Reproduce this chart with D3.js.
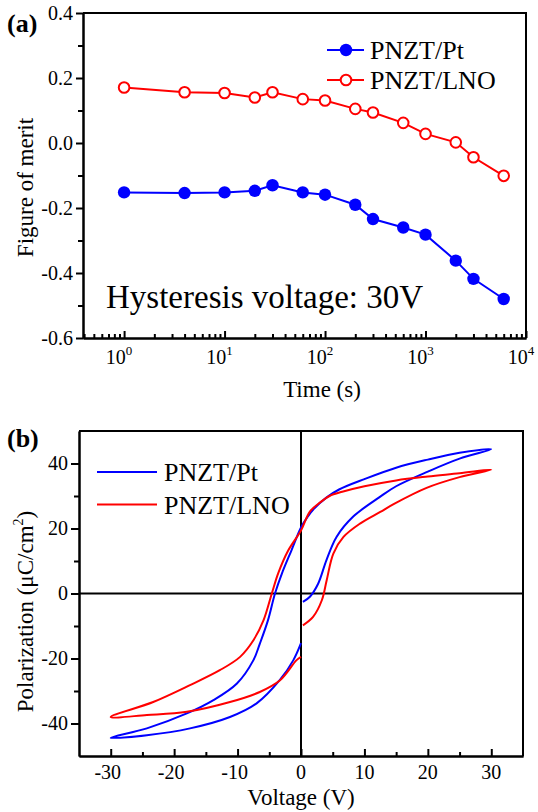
<!DOCTYPE html>
<html>
  <head>
    <style>
      body { margin: 0; background: #fff; }
      svg text { font-family: "Liberation Serif", "Times New Roman", serif; fill: #000; }
    </style>
  </head>
  <body>
    <script src="https://d3js.org/d3.v7.min.js"></script>
    <script>
      // ---- panel (a): figure of merit vs time ----
      const times = [1, 4, 10, 20, 30, 60, 100, 200, 300, 600, 1000, 2000, 3000, 6000];
      const meritPt = [-0.152, -0.154, -0.152, -0.147, -0.130, -0.152, -0.159, -0.190, -0.234, -0.260, -0.282, -0.362, -0.418, -0.480];
      const meritLNO = [0.171, 0.156, 0.154, 0.140, 0.156, 0.135, 0.131, 0.105, 0.094, 0.062, 0.028, 0.002, -0.044, -0.101];
      const seriesNames = ["PNZT/Pt", "PNZT/LNO"];
      const meritTicks = [-0.6, -0.4, -0.2, 0.0, 0.2, 0.4];
      const meritMinor = [-0.5, -0.3, -0.1, 0.1, 0.3];
      const timeTicks = [1, 10, 100, 1000, 10000];

      // ---- panel (b): P-E hysteresis loops ----
      const voltPt = [0.3, 1.4, 2.7, 4.0, 5.6, 8.2, 12.5, 15, 20, 25, 30,
        25, 20, 15, 10, 6, 4, 2, 1, 0, -1.5, -3.0, -4.1, -5.2, -6.5, -7.5, -10.1, -13.8, -18, -24.3, -30,
        -24.3, -17.5, -11.2, -7, -3.3, -1.2, 0];
      const polPt = [-2.6, -1, 3, 10.2, 17.4, 23.6, 29.8, 33, 37.5, 41.5, 44.4,
        43.3, 41.2, 38.7, 35.2, 32, 29.5, 26, 23.5, 20.3, 13.3, 6.2, 0, -8.2, -15.5, -20.5, -27.7, -32.8, -36.9, -41.5, -44.4,
        -43.6, -41.5, -38, -33.8, -26.5, -20.5, -15.3];
      const voltLNO = [0.3, 1.9, 3.3, 4.05, 5.1, 6.7, 9.3, 12.5, 14.6, 19.8, 25, 30,
        25, 20, 15, 10, 6.5, 4.5, 3, 1.4, 0, -2.0, -3.6, -4.6, -5.9, -7.5, -9.6, -12.8, -17.5, -23.3, -30,
        -24.3, -18, -11.2, -6.5, -3.3, -0.7, 0];
      const polLNO = [-9.8, -7.2, -2, 4.1, 12.3, 17.4, 21.5, 25.1, 27.5, 32.5, 35.8, 38.1,
        37, 36, 34.8, 33, 31.3, 30, 28, 25.2, 19.4, 13.3, 6.2, 0, -8.2, -14.4, -19.5, -23.6, -28.2, -33.4, -38,
        -37.4, -36.4, -33.4, -30.3, -26.7, -20.5, -19.5];
      const voltTicks = [-30, -20, -10, 0, 10, 20, 30];
      const voltMinor = [-25, -15, -5, 5, 15, 25];
      const polTicks = [-40, -20, 0, 20, 40];
      const polMinor = [-30, -10, 10, 30];

      const blue = "#0000ff", red = "#ff0000";

      const svg = d3.select("body").append("svg")
        .attr("width", 538)
        .attr("height", 812);

      function styleAxis(g) {
        g.select(".domain").attr("stroke", "#000").attr("stroke-width", 2);
        g.selectAll(".tick line").attr("stroke", "#000").attr("stroke-width", 2);
      }

      // ================= panel (a) =================
      const xA = d3.scaleLog().domain([0.39, 10000]).range([83, 526]);
      const yA = d3.scaleLinear().domain([-0.6, 0.4]).range([338, 13]);

      // frame top / right
      svg.append("path")
        .attr("d", `M${xA.range()[0]},${yA(0.4)}H${xA.range()[1]}V${yA(-0.6)}`)
        .attr("fill", "none").attr("stroke", "#000").attr("stroke-width", 2);

      // left axis, ticks outside
      svg.append("g").attr("transform", `translate(${xA.range()[0]},0)`)
        .call(d3.axisLeft(yA).tickValues(meritMinor).tickSize(5).tickSizeOuter(0).tickFormat(""))
        .call(styleAxis);
      const axA = svg.append("g").attr("transform", `translate(${xA.range()[0]},0)`)
        .call(d3.axisLeft(yA).tickValues(meritTicks).tickSize(7).tickSizeOuter(0).tickPadding(3)
          .tickFormat(d => d.toFixed(1)))
        .call(styleAxis);
      axA.selectAll("text").attr("font-size", 20).attr("font-family", "Liberation Serif");

      // bottom axis, ticks inside
      const minorTimes = xA.ticks().filter(d => !timeTicks.includes(d) && d >= 0.39);
      svg.append("g").attr("transform", `translate(0,${yA(-0.6)})`)
        .call(d3.axisBottom(xA).tickValues(minorTimes).tickSize(-4).tickSizeOuter(0).tickFormat(""))
        .call(styleAxis);
      svg.append("g").attr("transform", `translate(0,${yA(-0.6)})`)
        .call(d3.axisBottom(xA).tickValues(timeTicks).tickSize(-7).tickSizeOuter(0).tickFormat(""))
        .call(styleAxis);
      const tl = svg.append("g").selectAll("text").data(timeTicks).join("text")
        .attr("x", d => xA(d) - 5)
        .attr("y", yA(-0.6) + 26)
        .attr("font-size", 20)
        .attr("text-anchor", "middle");
      tl.append("tspan").text("10");
      tl.append("tspan").attr("font-size", 13).attr("dy", -9).text(d => Math.round(Math.log10(d)));

      svg.append("text").attr("x", 322).attr("y", 397)
        .attr("text-anchor", "middle").attr("font-size", 23).text("Time (s)");
      svg.append("text")
        .attr("transform", `translate(33,${(yA(0.4) + yA(-0.6)) / 2 + 12}) rotate(-90)`)
        .attr("text-anchor", "middle").attr("font-size", 23).text("Figure of merit");

      const lineA = d3.line().x(d => xA(d[0])).y(d => yA(d[1]));
      const ptData = times.map((t, i) => [t, meritPt[i]]);
      const lnoData = times.map((t, i) => [t, meritLNO[i]]);

      svg.append("path").datum(lnoData).attr("d", lineA)
        .attr("fill", "none").attr("stroke", red).attr("stroke-width", 2);
      svg.append("g").selectAll("circle").data(lnoData).join("circle")
        .attr("cx", d => xA(d[0])).attr("cy", d => yA(d[1])).attr("r", 5.3)
        .attr("fill", "#fff").attr("stroke", red).attr("stroke-width", 2);

      svg.append("path").datum(ptData).attr("d", lineA)
        .attr("fill", "none").attr("stroke", blue).attr("stroke-width", 2);
      svg.append("g").selectAll("circle").data(ptData).join("circle")
        .attr("cx", d => xA(d[0])).attr("cy", d => yA(d[1])).attr("r", 6.2)
        .attr("fill", blue);

      // legend (a)
      const legA = svg.append("g").selectAll("g").data(seriesNames).join("g")
        .attr("transform", (d, i) => `translate(327,${50 + i * 30})`);
      legA.append("line").attr("x1", 0).attr("x2", 37)
        .attr("stroke", (d, i) => i ? red : blue).attr("stroke-width", 2);
      legA.append("circle").attr("cx", 19).attr("r", (d, i) => i ? 5.3 : 6.2)
        .attr("fill", (d, i) => i ? "#fff" : blue)
        .attr("stroke", (d, i) => i ? red : "none").attr("stroke-width", 2);
      legA.append("text").attr("x", 43).attr("y", 9).attr("font-size", 26).text(d => d);

      svg.append("text").attr("x", 106).attr("y", 308).attr("font-size", 33)
        .text("Hysteresis voltage: 30V");
      svg.append("text").attr("x", 7).attr("y", 32).attr("font-size", 26)
        .attr("font-weight", "bold").text("(a)");

      // ================= panel (b) =================
      const xB = d3.scaleLinear().domain([-35, 35]).range([79, 523]);
      const yB = d3.scaleLinear().domain([-50, 50]).range([756, 431]);

      svg.append("path")
        .attr("d", `M${xB(-35)},${yB(50)}H${xB(35)}V${yB(-50)}`)
        .attr("fill", "none").attr("stroke", "#000").attr("stroke-width", 2);
      // zero lines
      svg.append("line").attr("x1", xB(0)).attr("x2", xB(0)).attr("y1", yB(50)).attr("y2", yB(-50))
        .attr("stroke", "#000").attr("stroke-width", 2);
      svg.append("line").attr("x1", xB(-35)).attr("x2", xB(35)).attr("y1", yB(0)).attr("y2", yB(0))
        .attr("stroke", "#000").attr("stroke-width", 2);

      svg.append("g").attr("transform", `translate(${xB(-35)},0)`)
        .call(d3.axisLeft(yB).tickValues(polMinor).tickSize(5).tickSizeOuter(0).tickFormat(""))
        .call(styleAxis);
      const axB = svg.append("g").attr("transform", `translate(${xB(-35)},0)`)
        .call(d3.axisLeft(yB).tickValues(polTicks).tickSize(8).tickSizeOuter(0).tickPadding(3)
          .tickFormat(d => String(d)))
        .call(styleAxis);
      axB.selectAll("text").attr("font-size", 20).attr("font-family", "Liberation Serif");

      svg.append("g").attr("transform", `translate(0,${yB(-50)})`)
        .call(d3.axisBottom(xB).tickValues(voltMinor).tickSize(-4).tickSizeOuter(0).tickFormat(""))
        .call(styleAxis);
      svg.append("g").attr("transform", `translate(0,${yB(-50)})`)
        .call(d3.axisBottom(xB).tickValues(voltTicks).tickSize(-7).tickSizeOuter(0).tickFormat(""))
        .call(styleAxis);
      svg.append("g").selectAll("text").data(voltTicks).join("text")
        .attr("x", d => xB(d) - (d < 0 ? 3 : 0))
        .attr("y", yB(-50) + 23)
        .attr("font-size", 20)
        .attr("text-anchor", "middle")
        .text(d => String(d));

      svg.append("text").attr("x", 301).attr("y", 805)
        .attr("text-anchor", "middle").attr("font-size", 23).text("Voltage (V)");
      const yt = svg.append("text")
        .attr("transform", `translate(33,${(yB(50) + yB(-50)) / 2 + 18}) rotate(-90)`)
        .attr("text-anchor", "middle").attr("font-size", 23);
      yt.append("tspan").text("Polarization (\u03bcC/cm");
      yt.append("tspan").attr("font-size", 14).attr("dy", -10).text("2");
      yt.append("tspan").attr("dy", 10).text(")");

      const lineB = d3.line().x(d => xB(d[0])).y(d => yB(d[1]))
        .curve(d3.curveCatmullRom.alpha(0.5));
      svg.append("path").datum(voltPt.map((v, i) => [v, polPt[i]])).attr("d", lineB)
        .attr("fill", "none").attr("stroke", blue).attr("stroke-width", 2);
      svg.append("path").datum(voltLNO.map((v, i) => [v, polLNO[i]])).attr("d", lineB)
        .attr("fill", "none").attr("stroke", red).attr("stroke-width", 2);

      // legend (b)
      const legB = svg.append("g").selectAll("g").data(seriesNames).join("g")
        .attr("transform", (d, i) => `translate(97,${472 + i * 32.5})`);
      legB.append("line").attr("x1", 0).attr("x2", 60)
        .attr("stroke", (d, i) => i ? red : blue).attr("stroke-width", 2);
      legB.append("text").attr("x", 67).attr("y", 9).attr("font-size", 26).text(d => d);

      svg.append("text").attr("x", 7).attr("y", 447).attr("font-size", 26)
        .attr("font-weight", "bold").text("(b)");
    </script>
  </body>
</html>
